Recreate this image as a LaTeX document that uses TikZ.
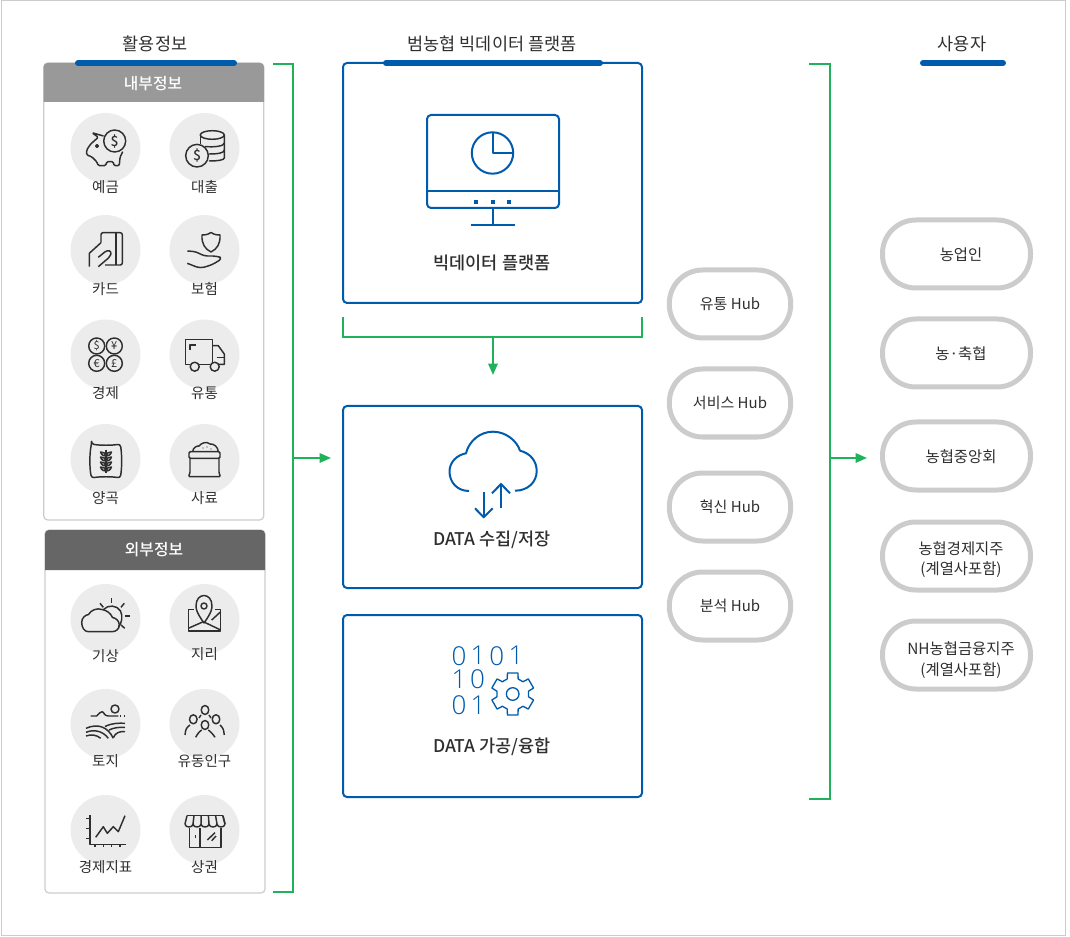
\documentclass[tikz,border=0pt]{standalone}
\usepackage{fontspec}
\setmainfont{Noto Sans CJK KR}
\newfontfamily\medfont{Noto Sans CJK KR Medium}
\newfontfamily\thinfont{Open Sans Light}
\usetikzlibrary{arrows.meta}
\definecolor{nhblue}{HTML}{005BAC}
\definecolor{nhgreen}{HTML}{1FB25A}
\definecolor{pillgray}{HTML}{CCCCCC}
\definecolor{discgray}{HTML}{ECECEC}
\definecolor{ink}{HTML}{2F2F2F}
\newcommand{\px}[1]{\pgfmathsetmacro\pxsize{#1*0.75}\fontsize{\pxsize}{#1}\selectfont}

\begin{document}
\begin{tikzpicture}[x=0.75pt,y=-0.75pt,line width=0.75pt,text=ink]
\tikzset{bluebox/.style = {shape=rectangle, draw=nhblue, line width=1.5pt, rounded corners=3pt, minimum width=224.25pt},
  greybox/.style = {shape=rectangle, draw=pillgray, line width=0.9pt, rounded corners=3pt, minimum width=165pt},
  pill/.style = {shape=rectangle, draw=pillgray, line width=3.75pt, rounded corners=25pt, minimum height=51pt},
  disc/.style = {shape=circle, fill=discgray, minimum size=52.5pt, inner sep=0pt},
  bar/.style = {line width=4.5pt, draw=nhblue, line cap=round},
  link/.style = {draw=nhgreen, line width=1.5pt},
  flow/.style = {link, -{Triangle[length=8.5pt,width=7pt]}},
  icon/.style = {draw=ink, line width=1.1pt, line join=round},
  blueicon/.style = {draw=nhblue, line width=1.5pt, line join=round},
  caption/.style = {font=\px{14.5}},
  heading/.style = {font=\px{17.5}},
  boxtitle/.style = {font=\medfont\px{17.5}},
  headtitle/.style = {font=\medfont\px{15.8}, text=white},
  pilltext/.style = {font=\px{15}, align=center},
  usertext/.style = {font=\px{15.4}, align=center},
  coinsign/.style = {font=\medfont\px{14}, inner sep=0pt},
  bindigit/.style = {font=\thinfont\px{26}, text=nhblue, inner sep=0pt}}

%frame
\useasboundingbox (0,0) rectangle (1070,937);
\draw[pillgray, line width=0.75pt] (1,1) rectangle (1065,935);

%headings
\node[heading] (useinfo) at (155,44) {활용정보};
\node[heading] (platformtitle) at (492,44) {범농협 빅데이터 플랫폼};
\node[heading] (usertitle) at (962,44) {사용자};

%internal information
\node[greybox, minimum height=342.75pt] (inner) at (153.75,291.5) {};
\fill[black!40] (43.5,102) -- (43.5,67) [rounded corners=3pt] -- (43.5,63) -- (264,63) [sharp corners] -- (264,102) -- cycle;
\node[headtitle] (innertitle) at (153,84) {내부정보};

%external information
\node[greybox, minimum height=272.25pt] (outer) at (155,711.5) {};
\fill[black!60] (45,570) -- (45,534) [rounded corners=3pt] -- (45,530) -- (265,530) [sharp corners] -- (265,570) -- cycle;
\node[headtitle] (outertitle) at (154,550) {외부정보};

\draw[bar] (78,63) -- (234,63);
\draw[bar] (386,63) -- (600,63);
\draw[bar] (923,63) -- (1003,63);

%discs
\foreach \name/\x/\y/\txt/\ty in {deposit/105.5/148/예금/187, loan/204.5/148/대출/187,
  card/105.5/250/카드/289, insure/204.5/250/보험/289,
  settle/105.5/354.5/경제/393, logis/204.5/354.5/유통/393,
  grain/105.5/459/양곡/498, feed/204.5/459/사료/498,
  weather/105.5/619/기상/656, geo/204.5/619/지리/654,
  land/105.5/724/토지/761, people/204.5/724/유동인구/761,
  index/105.5/830/경제지표/867, shop/204.5/830/상권/867} {
  \node[disc] (\name) at (\x,\y) {};
  \node[caption] (\name text) at (\x,\ty) {\txt};
}

%deposit icon
\draw[icon] (114.7,141) circle (11);
\node[coinsign] (depositsign) at (114.7,141) {\$};
\draw[icon, rounded corners=1pt] (103.5,136) -- (92,132.7) -- (98.3,137.3) -- (90.7,144) -- (86.7,150) -- (86.7,155) -- (91.7,156.7) -- (96.7,161.7) -- (98.3,165.7) -- (105.7,165.7) -- (106.7,161.7) -- (113.3,161.7) -- (114,165.7) -- (119.3,165.7) -- (120,157.3) -- (122.7,151.7);
\draw[icon] (97,146) circle (1.3);

%loan icon
\draw[icon] (212.3,135) ellipse (12 and 4.3);
\draw[icon] (200.3,135) -- (200.3,144);
\draw[icon] (224.3,135) -- (224.3,158) .. controls (224.3,160) and (218,161) .. (209,161);
\draw[icon] (224.3,143) .. controls (224.3,146) and (215,147.5) .. (205,146.5);
\draw[icon] (224.3,150) .. controls (224.3,153) and (218,154) .. (209,154);
\draw[icon] (197,155.7) circle (11.3);
\node[coinsign] (loansign) at (197,155.7) {\$};

%card icon
\draw[icon, rounded corners=1.5pt] (101,242.7) -- (101,232.7) -- (122.3,232.7) -- (122.3,265) -- (105,265);
\draw[icon] (116,232.7) -- (116,265);
\draw[icon] (89.3,266.7) -- (89.3,253.3) -- (101,242.7);
\draw[icon, rounded corners=2pt] (98.3,257.3) -- (107.3,250) -- (111.7,251.7) -- (110,256.7) -- (98.3,266.7);

%insurance icon
\draw[icon] (211,232.5) .. controls (215,235) and (217,235) .. (220,235) .. controls (220.5,244) and (217,249) .. (211,252) .. controls (205,249) and (201.5,244) .. (202,235) .. controls (205,235) and (207,235) .. (211,232.5);
\draw[icon, rounded corners=3pt] (187.3,251) -- (196.7,251.7) -- (203.3,256) -- (216.7,256) -- (222.7,258.3) -- (211.7,265) -- (200,268.3) -- (187.3,263.3);

%money icon
\foreach \x/\y/\sym [count=\i] in {96.7/346/\$, 114.3/346/¥, 96.7/363.3/€, 114.3/363.3/£} {
  \draw[icon] (\x,\y) circle (8);
  \node[coinsign, font=\px{11}] (money\i) at (\x,\y) {\sym};
}

%truck icon
\draw[icon] (189.9,364.3) -- (185.3,364.3) -- (185.3,339.3) -- (212.3,339.3) -- (212.3,364.3);
\draw[icon] (199.2,364.3) -- (210.2,364.3);
\draw[icon] (212.3,345.7) -- (218.3,345.7) -- (224.3,354) -- (224.3,364.3) -- (219.2,364.3);
\draw[icon] (216.7,357.3) -- (224.3,357.3);
\draw[icon] (190,350) -- (190,345) -- (196,345);
\draw[icon] (194.7,366.7) circle (4.5);
\draw[icon] (214.7,366.7) circle (4.5);

%grain icon
\draw[icon, rounded corners=2pt] (91.5,444) .. controls (100,445.5) and (112,445.5) .. (120.2,444) .. controls (122,454) and (122,468) .. (120.2,478) .. controls (112,476.5) and (100,476.5) .. (91.5,478) .. controls (89.5,468) and (89.5,454) .. (91.5,444) -- cycle;
\draw[icon] (106,449.5) -- (106,473);
\foreach \y in {453,458,463,468} {
  \draw[icon] (106,\y+3) .. controls (102,\y+3) and (100.5,\y) .. (100.5,\y-1) .. controls (103,\y-1) and (106,\y) .. (106,\y+3);
  \draw[icon] (106,\y+3) .. controls (110,\y+3) and (111.5,\y) .. (111.5,\y-1) .. controls (109,\y-1) and (106,\y) .. (106,\y+3);
}

%feed icon
\draw[icon, rounded corners=1pt] (189,451.7) rectangle (220,458.3);
\draw[icon, rounded corners=1pt] (190,458.3) -- (190,473.3) -- (188.3,476.7) -- (220.7,476.7) -- (219,473.3) -- (219,458.3);
\draw[icon] (192.7,451.7) .. controls (193,447) and (197,446) .. (199,446) .. controls (201,443) and (207,441) .. (210,444) .. controls (214,443.5) and (218,447) .. (218.3,451.7);
\foreach \x/\y in {203/448, 207/447, 211/449} { \fill[ink] (\x,\y) circle (0.7); }

%weather icon
\draw[icon] (103.5,609.5) .. controls (108,604.5) and (117,605) .. (120.5,611) .. controls (123,616) and (122,623) .. (118.5,627);
\draw[icon] (88.3,631.7) .. controls (84,631.7) and (81.7,627) .. (81.7,622.5) .. controls (81.7,618) and (85,615) .. (88.5,614.5) .. controls (91,610) and (97,607.7) .. (102,609.5) .. controls (107,610.5) and (110.5,613) .. (112.5,617.5) .. controls (116,618) and (119.3,621) .. (119.3,625) .. controls (119.3,629) and (116,631.7) .. (112,631.7) -- cycle;
\foreach \xa/\ya/\xb/\yb in {111.7/598/111.7/603, 100/603.3/103.3/607.3, 124.3/603.3/121/607.3, 125/616/130/616, 121/625/124.7/628.3} {
  \draw[icon] (\xa,\ya) -- (\xb,\yb);
}

%map icon
\draw[icon] (194,609.3) -- (188.3,609.3) -- (188.3,631) -- (220.7,631) -- (220.7,609.3) -- (215,609.3);
\draw[icon] (204,623) .. controls (196,612) and (196,608) .. (196,606) .. controls (196,592) and (212,592) .. (212,606) .. controls (212,608) and (212,612) .. (204,623) -- cycle;
\draw[icon] (204,606) circle (3);
\draw[icon] (188.3,628.3) -- (203.3,621.7) -- (220.7,630);
\draw[icon] (211.7,620) -- (220.7,611.7);

%land icon
\draw[icon] (115,709) circle (4);
\draw[icon] (90.7,716) -- (96.7,716) .. controls (99,714) and (100,711.7) .. (102,711.7) .. controls (104,711.7) and (104,716) .. (108.3,716) -- (118.3,716);
\draw[icon, dash pattern=on 1pt off 2pt] (120,716) -- (125,716);
\draw[icon] (86,728.3) .. controls (98,723) and (108,727) .. (113.3,738.3);
\draw[icon] (86,732.3) .. controls (94,729) and (103,731) .. (108.3,738.3);
\draw[icon] (86,736) .. controls (91,734) and (97,735) .. (100.7,738.3);
\draw[icon] (105,726.5) .. controls (112,723) and (119,723) .. (125,723.3);
\draw[icon] (109,730) .. controls (114,727.5) and (120,727) .. (125,727.5);
\draw[icon] (113.5,737.5) .. controls (115,733) and (120,731) .. (125,731.5);

%people icon
\foreach \x/\y in {193.3/719.3, 205/710, 216/719.3, 205/725} { \draw[icon] (\x,\y) ellipse (3.8 and 4.5); }
\draw[icon, rounded corners=2pt] (195.7,737.3) -- (198.3,732.7) -- (201.7,730);
\draw[icon, rounded corners=2pt] (208.3,730) -- (211.7,732.7) -- (215,737.3);
\draw[icon, rounded corners=2pt] (224.3,735) -- (223.3,728.3) -- (220,725);
\draw[icon, rounded corners=2pt] (185,735) -- (186,728.3) -- (190,725);
\draw[icon] (199,718) -- (201,715);
\draw[icon] (211,718) -- (209,715);

%index icon
\draw[icon] (90,815) -- (90,844.3) -- (126,844.3);
\foreach \y in {818.3,828.3,838.3} { \draw[icon] (86,\y) -- (90,\y); }
\foreach \x in {95,103.3,111.7,120} { \draw[icon] (\x,844.3) -- (\x,847.3); }
\draw[icon] (95.7,837.3) -- (103.3,826.7) -- (107.3,833.3) -- (113.3,826.7) -- (118.3,831.7) -- (125,815.7);

%shop icon
\draw[icon] (187,815.7) -- (223,815.7);
\draw[icon] (187,815.7) -- (185,824);
\draw[icon] (223,815.7) -- (225,824);
\foreach \x [count=\i] in {185,193,201,209,217} {
  \draw[icon] (\x,824) .. controls (\x,828) and (\x+8,828) .. (\x+8,824);
  \draw[icon] (\x+8,824) -- (194+\i*7.2-7.2,815.7);
}
\draw[icon] (189.3,828) -- (189.3,847.3) -- (221,847.3) -- (221,828);
\draw[icon] (200,828) -- (200,847.3);
\draw[icon] (195.7,835) -- (195.7,838.3);
\draw[icon] (207.3,840) -- (215,832.7);
\draw[icon] (211.7,840.7) -- (216,836);

%platform boxes
\node[bluebox, minimum height=180pt] (platform) at (492.5,183) {};
\node[boxtitle] (platformtext) at (492,263) {빅데이터 플랫폼};
\node[bluebox, minimum height=136.5pt] (collect) at (492.5,497) {};
\node[boxtitle] (collecttext) at (492,540) {DATA 수집/저장};
\node[bluebox, minimum height=136.5pt] (process) at (492.5,706) {};
\node[boxtitle] (processtext) at (492,747) {DATA 가공/융합};

%monitor icon
\draw[blueicon, rounded corners=3pt] (427,115) rectangle (559,208);
\draw[blueicon] (427,191) -- (559,191);
\foreach \x in {476,493,509} { \fill[nhblue] (\x-2,200) rectangle (\x+2,204); }
\draw[blueicon] (493,208) -- (493,225);
\draw[blueicon] (471,225) -- (515,225);
\draw[blueicon] (492.5,153) circle (20.7);
\draw[blueicon] (492.5,132.3) -- (492.5,153) -- (513.2,153);

%cloud icon
\draw[blueicon] (469,491) .. controls (457,491) and (449.5,482) .. (449.5,471.5) .. controls (449.5,462) and (457,455) .. (466,453.3) .. controls (469,441) and (480,431.7) .. (493,431.7) .. controls (506,431.7) and (517,441) .. (520,450.7) .. controls (530,453) and (536.7,461) .. (536.7,471) .. controls (536.7,482) and (528,490.7) .. (515,490.7);
\draw[blueicon] (483.7,492) -- (483.7,517.3);
\draw[blueicon] (475,508.3) -- (483.7,517.3) -- (492.7,508.3);
\draw[blueicon] (501,508.3) -- (501,484);
\draw[blueicon] (492,493.3) -- (501,484) -- (510,493.3);

%binary digits and gear
\foreach \x/\y/\d [count=\i] in {459/655.7/0, 478/655.7/1, 496.7/655.7/0, 516/655.7/1, 459/679.5/1, 477.5/679.5/0, 459/705/0, 478/705/1} {
  \node[bindigit] (bit\i) at (\x,\y) {\d};
}
\begin{scope}[shift={(512.7,694)}]
\draw[draw=nhblue, line width=1pt, line join=round] (70:16) \foreach \a in {90,150,210,270,330,30} { -- (\a-20:16) -- (\a-14:21.7) -- (\a+14:21.7) -- (\a+20:16) } -- cycle;
\draw[draw=nhblue, line width=1pt] (0,0) circle (6.3);
\end{scope}

%hubs
\foreach \name/\y/\txt in {hubmarket/304/유통 Hub, hubservice/403/서비스 Hub, hubinnov/507/혁신 Hub, hubanalysis/606/분석 Hub} {
  \node[pill, minimum width=91pt, pilltext] (\name) at (730,\y) {\txt};
}

%users
\node[pill, minimum width=111pt] (farmer) at (956.5,254) {};
\node[usertext] (farmertext) at (961,255) {농업인};
\node[pill, minimum width=111pt] (coop) at (956.5,353) {};
\node[usertext] (cooptext) at (961,354) {농·축협};
\node[pill, minimum width=111pt] (central) at (956.5,456) {};
\node[usertext] (centraltext) at (961,457) {농협중앙회};
\node[pill, minimum width=111pt] (agri) at (956.5,556) {};
\node[usertext] (agritext) at (961,559.5) {농협경제지주\\(계열사포함)};
\node[pill, minimum width=111pt] (finance) at (956.5,655) {};
\node[usertext] (financetext) at (961,660) {NH농협금융지주\\(계열사포함)};

%connectors
\coordinate (lefttop) at (273,64);
\coordinate (leftbot) at (273,892);
\coordinate (leftmid) at (293,458);
\coordinate (lefttip) at (331,458);
\coordinate (midleft) at (343,317);
\coordinate (midright) at (642,317);
\coordinate (midjoin) at (493,337);
\coordinate (midtip) at (493,375);
\coordinate (righttop) at (809,64);
\coordinate (rightbot) at (809,799);
\coordinate (rightmid) at (830,458);
\coordinate (righttip) at (867,458);

\draw[link] (lefttop) -| (leftmid) |- (leftbot);
\draw[flow] (leftmid) -- (lefttip);
\draw[link] (midleft) |- (midjoin) -| (midright);
\draw[flow] (midjoin) -- (midtip);
\draw[link] (righttop) -| (rightmid) |- (rightbot);
\draw[flow] (rightmid) -- (righttip);

\end{tikzpicture}
\end{document}
